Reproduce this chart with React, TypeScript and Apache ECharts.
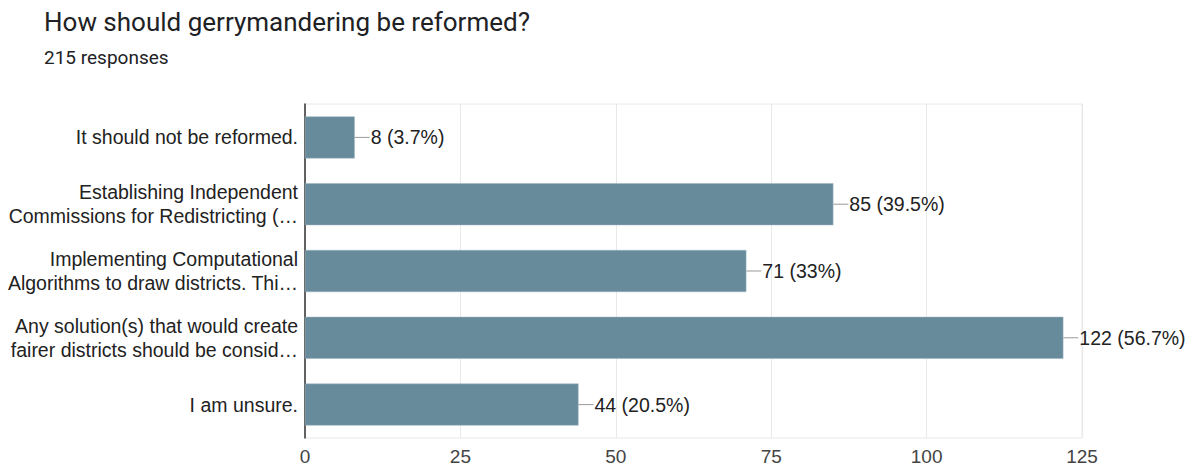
import React, { useEffect, useRef } from "react";
import * as echarts from "echarts";

const titleText = "How should gerrymandering be reformed?";
const subtitleText = "215 responses";
const categories = [
  "It should not be reformed.",
  "Establishing Independent\nCommissions for Redistricting (…",
  "Implementing Computational\nAlgorithms to draw districts. Thi…",
  "Any solution(s) that would create\nfairer districts should be consid…",
  "I am unsure.",
];
const counts = [8, 85, 71, 122, 44];
const percents = ["3.7", "39.5", "33", "56.7", "20.5"];
const xTicks = { min: 0, max: 125, interval: 25 };

export default function App() {
  const ref = useRef<HTMLDivElement>(null);
  useEffect(() => {
    if (!ref.current) return;
    const chart = echarts.init(ref.current, undefined, { renderer: "svg" });
    chart.setOption({
      animation: false,
      backgroundColor: "#ffffff",
      title: [
        {
          text: titleText,
          left: 44,
          top: 9,
          padding: 0,
          textStyle: {
            fontFamily: "Roboto",
            fontSize: 26,
            fontWeight: "normal",
            color: "#202124",
          },
        },
        {
          text: subtitleText,
          left: 44,
          top: 48,
          padding: 0,
          textStyle: {
            fontFamily: "Roboto",
            fontSize: 19,
            fontWeight: "normal",
            color: "#202124",
          },
        },
      ],
      grid: {
        left: 305,
        right: 111,
        top: 104,
        bottom: 30,
        containLabel: false,
        outerBoundsMode: "none",
        show: true,
        borderColor: "#e8e8e8",
        borderWidth: 1,
      },
      xAxis: {
        type: "value",
        min: xTicks.min,
        max: xTicks.max,
        interval: xTicks.interval,
        axisLine: { show: false },
        axisTick: { show: false },
        splitLine: { show: true, lineStyle: { color: "#e8e8e8", width: 1 } },
        axisLabel: {
          fontFamily: "Liberation Sans",
          fontSize: 19,
          lineHeight: 19,
          color: "#444",
          margin: 9,
        },
      },
      yAxis: {
        type: "category",
        inverse: true,
        data: categories,
        axisLine: { show: true, lineStyle: { color: "#333", width: 1.5 } },
        axisTick: { show: false },
        axisLabel: {
          fontFamily: "Liberation Sans",
          fontSize: 19.5,
          color: "#222",
          margin: 7,
          lineHeight: 24,
          align: "right",
        },
      },
      series: [
        {
          type: "bar",
          data: counts,
          barWidth: 42,
          itemStyle: { color: "#688b9b", borderColor: "#9bb4c0", borderWidth: 0.5 },
          label: {
            show: true,
            position: "right",
            distance: 0,
            formatter: (p: any) =>
              `{l|}{t|${counts[p.dataIndex]} (${percents[p.dataIndex]}%)}`,
            rich: {
              l: { width: 15, height: 1, backgroundColor: "#999" },
              t: {
                fontFamily: "Liberation Sans",
                fontSize: 19.5,
                color: "#222",
                padding: [0, 0, 0, 1],
              },
            },
          },
        },
      ],
    });
    return () => chart.dispose();
  }, []);
  return (
    <div
      ref={ref}
      style={{ position: "absolute", left: 0, top: 0, width: 1193, height: 468 }}
    />
  );
}
